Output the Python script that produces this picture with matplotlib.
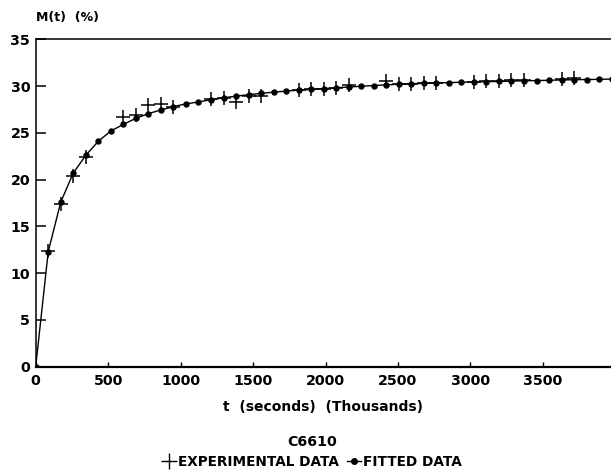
import matplotlib
matplotlib.use("Agg")
import matplotlib.pyplot as plt
from matplotlib.lines import Line2D

# time in thousands of seconds (one point per day)
t_fit = [0, 86.4, 172.8, 259.2, 345.6, 432.0, 518.4, 604.8, 691.2, 777.6,
         864.0, 950.4, 1036.8, 1123.2, 1209.6, 1296.0, 1382.4, 1468.8, 1555.2,
         1641.6, 1728.0, 1814.4, 1900.8, 1987.2, 2073.6, 2160.0, 2246.4, 2332.8,
         2419.2, 2505.6, 2592.0, 2678.4, 2764.8, 2851.2, 2937.6, 3024.0, 3110.4,
         3196.8, 3283.2, 3369.6, 3456.0, 3542.4, 3628.8, 3715.2, 3801.6, 3888.0,
         3974.4]
m_fit = [0, 12.3, 17.6, 20.7, 22.6, 24.1, 25.2, 25.9, 26.55, 27.05,
         27.45, 27.8, 28.1, 28.3, 28.55, 28.75, 28.92, 29.08, 29.22,
         29.35, 29.46, 29.57, 29.65, 29.73, 29.82, 29.9, 29.98, 30.06,
         30.13, 30.2, 30.25, 30.29, 30.33, 30.37, 30.41, 30.44, 30.47,
         30.5, 30.53, 30.56, 30.59, 30.62, 30.65, 30.68, 30.7, 30.72,
         30.75]

t_exp = [86.4, 172.8, 259.2, 345.6, 604.8, 691.2, 777.6, 864.0, 950.4,
         1209.6, 1296.0, 1382.4, 1468.8, 1555.2, 1814.4, 1900.8, 1987.2,
         2073.6, 2160.0, 2419.2, 2505.6, 2592.0, 2678.4, 2764.8, 3024.0,
         3110.4, 3196.8, 3283.2, 3369.6, 3628.8, 3715.2]
m_exp = [12.4, 17.4, 20.4, 22.45, 26.7, 26.9, 28.0, 28.1, 27.8,
         28.6, 28.7, 28.3, 28.9, 28.9, 29.6, 29.65, 29.7,
         29.8, 30.1, 30.5, 30.2, 30.25, 30.3, 30.3, 30.45,
         30.5, 30.55, 30.6, 30.6, 30.8, 30.9]

x_ticks = [0, 500, 1000, 1500, 2000, 2500, 3000, 3500]
y_ticks = [0, 5, 10, 15, 20, 25, 30, 35]

plt.rcParams['font.family'] = ['DejaVu Sans']
plt.rcParams['font.weight'] = 'bold'

W, H = 611, 476
fig = plt.figure(figsize=(W / 100, H / 100), dpi=100)
ax = fig.add_axes([35.7 / W, 1 - 366.7 / H, 1 - 35.7 / W, (366.7 - 39.3) / H])

ax.plot(t_fit, m_fit, color='black', lw=1.0, marker='o', ms=3.6, zorder=3)
ax.plot(t_exp, m_exp, linestyle='none', color='black', marker='+', ms=9.5,
        mew=1.1, zorder=4)

ax.set_xlim(0, 3970)
ax.set_ylim(0, 35)
ax.set_xticks(x_ticks)
ax.set_yticks(y_ticks)
ax.tick_params(axis='y', direction='in', length=7, width=1.1, pad=4,
               labelsize=10.3)
ax.tick_params(axis='x', direction='in', length=3.5, width=1.0, pad=5,
               labelsize=10.3)
for lab in ax.get_xticklabels() + ax.get_yticklabels():
    lab.set_fontweight('bold')

ax.spines['right'].set_visible(False)
ax.spines['left'].set_linewidth(1.1)
ax.spines['top'].set_linewidth(1.1)
ax.spines['bottom'].set_linewidth(1.6)

fig.text(36 / W, 1 - 18 / H, 'M(t)  (%)', fontsize=9, fontweight='bold',
         ha='left', va='center')
fig.text(323 / W, 1 - 407 / H, 't  (seconds)  (Thousands)', fontsize=10,
         fontweight='bold', ha='center', va='center')
fig.text(312 / W, 1 - 442 / H, 'C6610', fontsize=10.2, fontweight='bold',
         ha='center', va='center')

h_exp = Line2D([], [], linestyle='none', color='black', marker='+', ms=11,
               mew=1.0)
h_fit = Line2D([], [], color='black', lw=1.0, marker='o', ms=4)
leg = fig.legend([h_exp, h_fit], ['EXPERIMENTAL DATA', 'FITTED DATA'],
                 loc='center', bbox_to_anchor=(312 / W, 1 - 462 / H), ncol=2,
                 frameon=False, handlelength=1.0, handletextpad=0.2,
                 columnspacing=0.6, prop={'size': 9.8, 'weight': 'bold'})

fig.savefig('out.png', dpi=100)
